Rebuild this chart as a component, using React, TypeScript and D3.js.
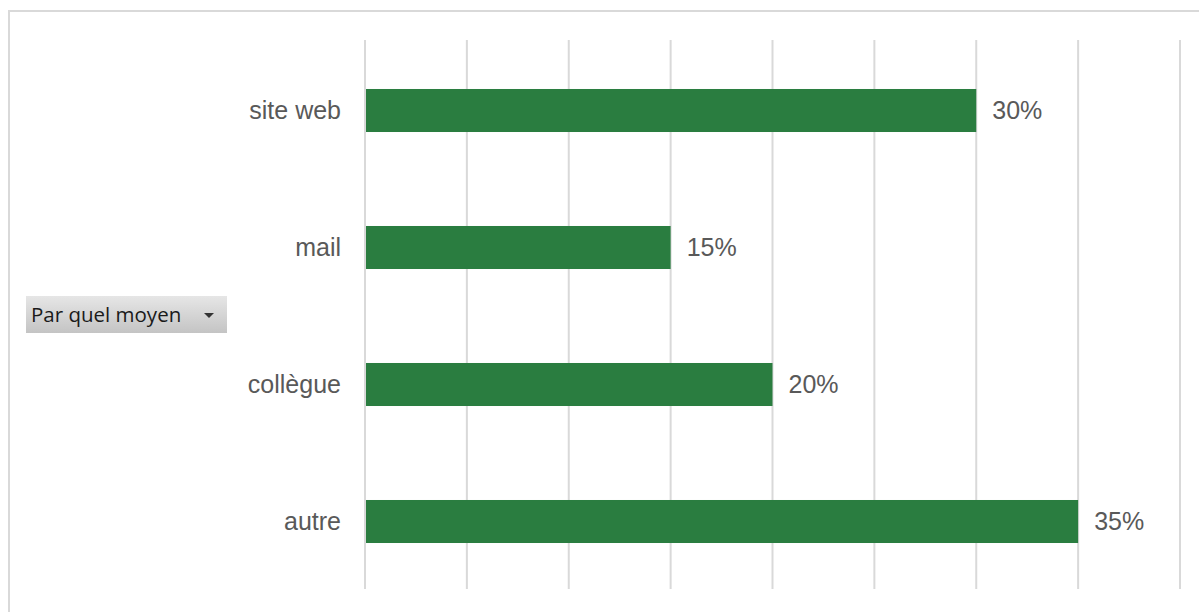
import React from "react";
import * as d3 from "d3";

const categories = ["site web", "mail", "collègue", "autre"];
const values = [0.30, 0.15, 0.20, 0.35];
const tickValues = [0, 0.05, 0.10, 0.15, 0.20, 0.25, 0.30, 0.35, 0.40];
const filterLabel = "Par quel moyen";

export default function App() {
  const W = 1199, H = 612;
  const x = d3.scaleLinear().domain([0, 0.40]).range([365, 1180]);
  const y = d3.scaleBand<string>().domain(categories).range([42, 590]).paddingInner(0.686).paddingOuter(0.343);
  const fmt = d3.format(".0%");
  const font = "Liberation Sans, Arial, sans-serif";
  return (
    <svg width={W} height={H} style={{ position: "absolute", left: 0, top: 0, background: "#fff" }}>
      <rect x={9} y={11} width={1200} height={620} fill="#fff" stroke="#d9d9d9" strokeWidth={2} />
      {tickValues.map((t) => (
        <line key={t} x1={x(t)} x2={x(t)} y1={40} y2={589} stroke="#d9d9d9" strokeWidth={2} />
      ))}
      {categories.map((c, i) => (
        <g key={c}>
          <rect x={x(0) + 1} y={y(c)!} width={x(values[i]) - x(0) - 1} height={y.bandwidth()} fill="#2a7d40" />
          <text x={x(values[i]) + 16} y={y(c)! + y.bandwidth() / 2} dy="0.35em" fontFamily={font} fontSize={25} fill="#595959">{fmt(values[i])}</text>
          <text x={341} y={y(c)! + y.bandwidth() / 2} dy="0.35em" textAnchor="end" fontFamily={font} fontSize={25} fill="#595959">{c}</text>
        </g>
      ))}
      <defs>
        <linearGradient id="btn" x1="0" y1="0" x2="0" y2="1">
          <stop offset="0" stopColor="#e6e6e6" />
          <stop offset="1" stopColor="#c4c4c4" />
        </linearGradient>
      </defs>
      <rect x={26} y={296} width={201} height={37} fill="url(#btn)" />
      <text x={31} y={315} dy="0.35em" fontFamily="Open Sans, DejaVu Sans, sans-serif" fontSize={20.5} fill="#1a1a1a">{filterLabel}</text>
      <path d="M204,313 L214,313 L209,318 Z" fill="#333" />
    </svg>
  );
}
